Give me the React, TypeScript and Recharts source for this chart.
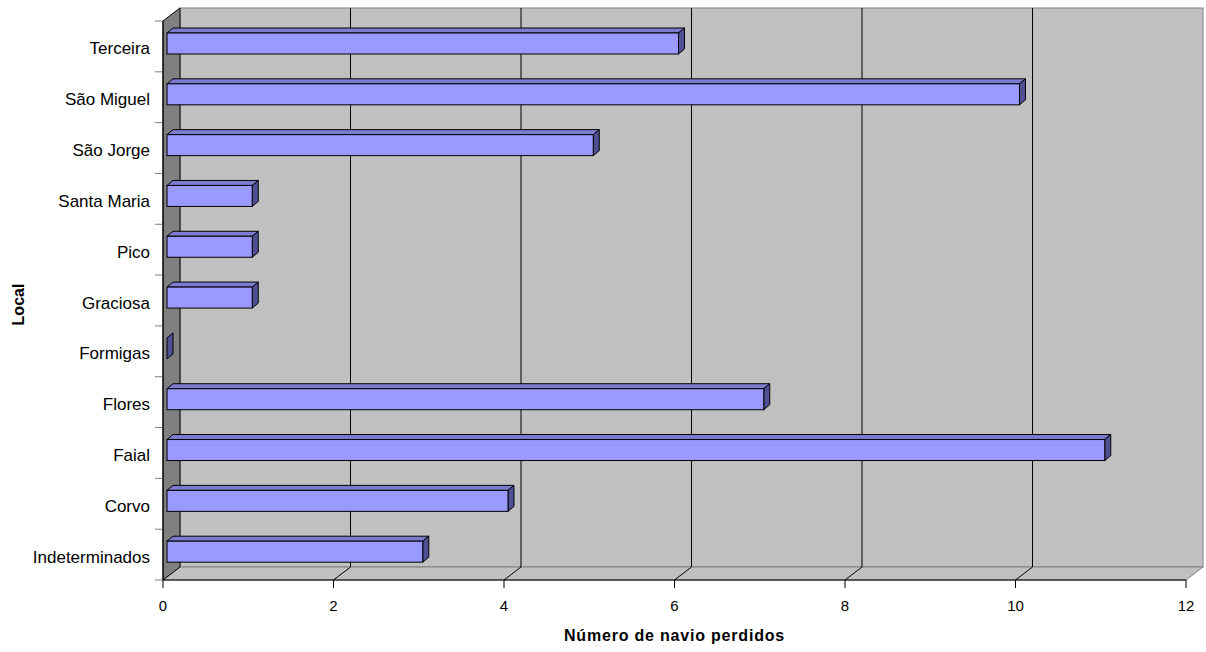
import React from "react";
import {
  BarChart,
  Bar,
  XAxis,
  YAxis,
  ReferenceArea,
  ReferenceLine,
} from "recharts";

// islands, top to bottom
const ISLANDS = [
  "Terceira",
  "São Miguel",
  "São Jorge",
  "Santa Maria",
  "Pico",
  "Graciosa",
  "Formigas",
  "Flores",
  "Faial",
  "Corvo",
  "Indeterminados",
];
const SHIPS_LOST = [6, 10, 5, 1, 1, 1, 0, 7, 11, 4, 3];
const X_TICKS = [0, 2, 4, 6, 8, 10, 12];
const GRID_VALUES = [2, 4, 6, 8, 10];

const data = ISLANDS.map((name, i) => ({ name, ships: SHIPS_LOST[i] }));

// depth of the 3d box (back wall offset)
const DX = 17;
const DY = 13;
// bar sits a bit inside the box
const BAR_OFF_X = 4;
const BAR_OFF_Y = 3;
const BAR_DX = 6;
const BAR_DY = 5;

const FONT = "Arial, 'Liberation Sans', sans-serif";

function Walls(props: any) {
  const { x, y, width, height } = props;
  const bottom = y + height;
  const n = ISLANDS.length;
  const step = height / n;
  return (
    <g>
      {/* back wall */}
      <rect
        x={x + DX}
        y={y - DY}
        width={width}
        height={height}
        fill="#c0c0c0"
        stroke="#808080"
      />
      {/* floor */}
      <polygon
        points={`${x},${bottom} ${x + DX},${bottom - DY} ${x + width + DX},${bottom - DY} ${x + width},${bottom}`}
        fill="#c0c0c0"
        stroke="#808080"
      />
      {/* side wall */}
      <polygon
        points={`${x},${y} ${x + DX},${y - DY} ${x + DX},${bottom - DY} ${x},${bottom}`}
        fill="#808080"
        stroke="#000"
      />
      {Array.from({ length: n + 1 }, (_, i) => (
        <line
          key={i}
          x1={x - 8}
          x2={x}
          y1={y + i * step}
          y2={y + i * step}
          stroke="#808080"
        />
      ))}
    </g>
  );
}

function GridLine(props: any) {
  const { x1, y1, y2 } = props;
  const top = Math.min(y1, y2);
  const bottom = Math.max(y1, y2);
  return (
    <g>
      <line x1={x1 + DX} x2={x1 + DX} y1={top - DY} y2={bottom - DY} stroke="#000" />
      <line x1={x1} y1={bottom} x2={x1 + DX} y2={bottom - DY} stroke="#000" />
    </g>
  );
}

function Bar3D(props: any) {
  const { x, y, width, height } = props;
  const fx = x + BAR_OFF_X;
  const fy = y - BAR_OFF_Y;
  const w = Math.max(width, 0);
  const ex = fx + w;
  return (
    <g>
      {w > 0 && (
        <polygon
          points={`${fx},${fy} ${fx + BAR_DX},${fy - BAR_DY} ${ex + BAR_DX},${fy - BAR_DY} ${ex},${fy}`}
          fill="#7b7bd0"
          stroke="#000"
        />
      )}
      <polygon
        points={`${ex},${fy} ${ex + BAR_DX},${fy - BAR_DY} ${ex + BAR_DX},${fy + height - BAR_DY} ${ex},${fy + height}`}
        fill="#4f4f94"
        stroke="#000"
      />
      {w > 0 && (
        <rect x={fx} y={fy} width={w} height={height} fill="#9999ff" stroke="#000" />
      )}
    </g>
  );
}

export default function App() {
  return (
    <div
      style={{
        position: "absolute",
        left: 0,
        top: 0,
        width: 1206,
        height: 652,
        background: "#fff",
        fontFamily: FONT,
      }}
    >
      <BarChart
        width={1206}
        height={652}
        data={data}
        layout="vertical"
        margin={{ top: 21, right: 20, bottom: 30, left: 30 }}
        barSize={21}
      >
        <XAxis
          type="number"
          domain={[0, 12]}
          ticks={X_TICKS}
          interval={0}
          height={42}
          tickSize={8}
          tickMargin={12}
          stroke="#000"
          tick={{ fill: "#000", fontSize: 15, fontFamily: FONT }}
          label={{
            content: ({ viewBox }: any) => (
              <text
                x={viewBox.x + viewBox.width / 2}
                y={viewBox.y + 61}
                textAnchor="middle"
                fontFamily={FONT}
                fontSize={16}
                fontWeight="bold"
                letterSpacing={0.8}
                fill="#000"
              >
                Número de navio perdidos
              </text>
            ),
          }}
        />
        <YAxis
          type="category"
          dataKey="name"
          width={133}
          tickLine={false}
          tickSize={8}
          tickMargin={5}
          stroke="#000"
          tick={{ fill: "#000", fontSize: 17, fontFamily: FONT, dy: 2 }}
          interval={0}
          label={{
            content: ({ viewBox }: any) => {
              const lx = viewBox.x - 6;
              const ly = viewBox.y + viewBox.height / 2 + 4;
              return (
                <text
                  x={lx}
                  y={ly}
                  transform={`rotate(-90 ${lx} ${ly})`}
                  textAnchor="middle"
                  fontFamily={FONT}
                  fontSize={16}
                  fontWeight="bold"
                  fill="#000"
                >
                  Local
                </text>
              );
            },
          }}
        />
        <ReferenceArea
          x1={0}
          x2={12}
          shape={Walls}
          ifOverflow="visible"
          zIndex={-100}
        />
        {GRID_VALUES.map((v) => (
          <ReferenceLine key={v} x={v} shape={GridLine} zIndex={-90} />
        ))}
        <Bar
          dataKey="ships"
          shape={Bar3D}
          isAnimationActive={false}
        />
      </BarChart>
    </div>
  );
}
